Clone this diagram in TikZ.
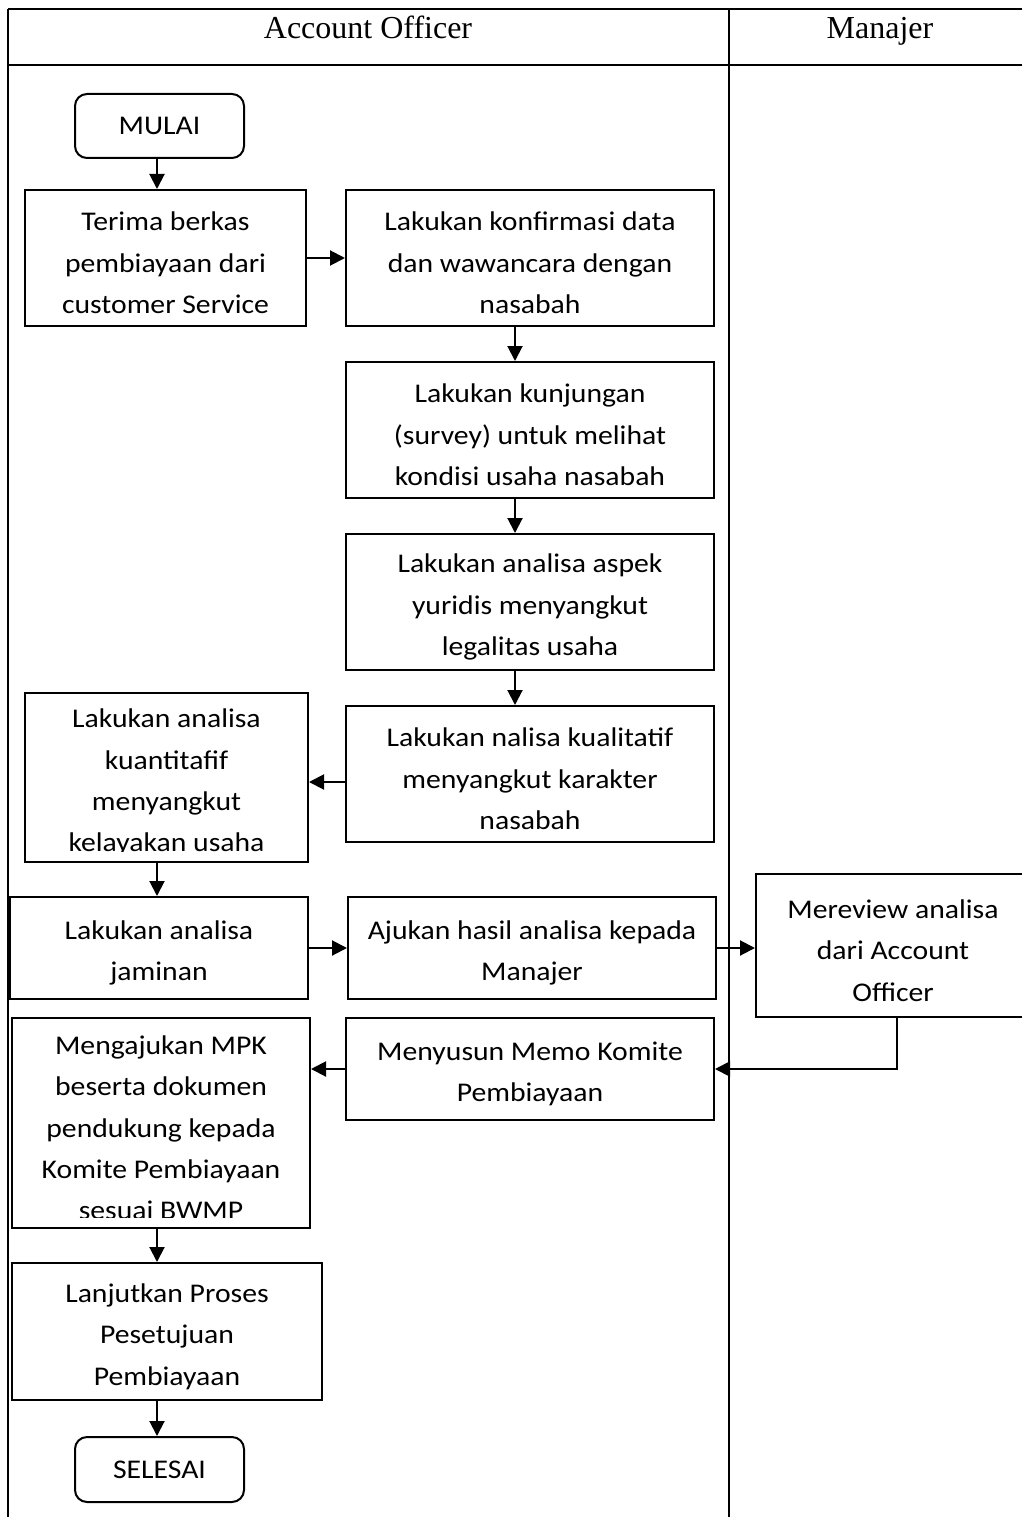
\documentclass[tikz,border=0pt]{standalone}
\usepackage{fontspec}
\setmainfont{Carlito}[FakeStretch=1.1]
\newfontfamily\hdrfont{Liberation Serif}
\usetikzlibrary{arrows.meta,calc}
\tikzset{
  tbl/.style={line width=2pt},
  box/.style={draw, line width=2pt, rectangle, inner sep=0pt},
  term/.style={draw, line width=2pt, rectangle, rounded corners=12pt, inner sep=0pt, font=\fontsize{27}{41}\selectfont},
  arr/.style={line width=2pt, -{Triangle[length=15pt,width=15pt]}},
  txt/.style={align=center, inner sep=0pt, font=\fontsize{27}{41.3}\selectfont},
  hdr/.style={inner sep=0pt, anchor=base, font=\hdrfont\fontsize{32}{36}\selectfont},
}
\newcommand\flowbox[6]{%
  \node[box, minimum width={(#4)-(#2)}, minimum height={(#5)-(#3)},
    path picture={
      \clip ([yshift=10.5pt]path picture bounding box.south west) rectangle (path picture bounding box.north east);
      \node[txt, anchor=north] at ([yshift=-4pt]path picture bounding box.north) {#6};
    }] (#1) at ({((#2)+(#4))/2},{((#3)+(#5))/2}) {};}
\begin{document}
\begin{tikzpicture}[x=1pt,y=-1pt]
\useasboundingbox (0,0) rectangle (1022,1517);
% table
\coordinate (tl) at (8,9);
\coordinate (tr) at (1031,9);
\coordinate (hl) at (8,65);
\coordinate (hr) at (1031,65);
\coordinate (bl) at (8,1530);
\coordinate (dt) at (729,9);
\coordinate (db) at (729,1530);
\draw[tbl] (tl) -- (tr);
\draw[tbl] (hl) -- (hr);
\draw[tbl] (tl) -- (bl);
\draw[tbl] (dt) -- (db);
\node[hdr] (h1) at (368,39) {Account Officer};
\node[hdr] (h2) at (880,39) {Manajer};
% nodes
\node[term, minimum width=169pt, minimum height=64pt] (mulai) at (159.5,126) {MULAI};
\flowbox{t1}{25}{190}{306}{326}{Terima berkas\\pembiayaan dari\\customer Service}
\flowbox{t2}{346}{190}{714}{326}{Lakukan konfirmasi data\\dan wawancara dengan\\nasabah}
\flowbox{t3}{346}{362}{714}{498}{Lakukan kunjungan\\(survey) untuk melihat\\kondisi usaha nasabah}
\flowbox{t4}{346}{534}{714}{670}{Lakukan analisa aspek\\yuridis menyangkut\\legalitas usaha}
\flowbox{t5}{346}{706}{714}{842}{Lakukan nalisa kualitatif\\menyangkut karakter\\nasabah}
\flowbox{t6}{25}{693}{308}{862}{Lakukan analisa\\kuantitafif\\menyangkut\\kelayakan usaha}
\flowbox{t7}{10}{897}{308}{999}{Lakukan analisa\\jaminan}
\flowbox{t8}{348}{897}{716}{999}{Ajukan hasil analisa kepada\\Manajer}
\flowbox{t9}{756}{874}{1030}{1017}{Mereview analisa\\dari Account\\Officer}
\flowbox{t10}{346}{1018}{714}{1120}{Menyusun Memo Komite\\Pembiayaan}
\flowbox{t11}{12}{1018}{310}{1228}{Mengajukan MPK\\beserta dokumen\\pendukung kepada\\Komite Pembiayaan\\sesuai BWMP}
\flowbox{t12}{12}{1263}{322}{1400}{Lanjutkan Proses\\Pesetujuan\\Pembiayaan}
\node[term, minimum width=169pt, minimum height=65pt] (selesai) at (159.5,1469.5) {SELESAI};
% connectors
\draw[arr] ([xshift=-2.5pt]mulai.south) -- ([xshift=-2.5pt]mulai.south |- t1.north);
\draw[arr] (t1.east) -- (t2.west);
\draw[arr] ([xshift=-15pt]t2.south) -- ([xshift=-15pt]t3.north);
\draw[arr] ([xshift=-15pt]t3.south) -- ([xshift=-15pt]t4.north);
\draw[arr] ([xshift=-15pt]t4.south) -- ([xshift=-15pt]t5.north);
\draw[arr] ([yshift=-8pt]t5.west) -- ([yshift=-8pt]t5.west -| t6.east);
\draw[arr] ([xshift=-2.5pt]t6.south -| mulai.south) -- ([xshift=-2.5pt]t7.north -| mulai.south);
\draw[arr] (t7.east) -- (t8.west);
\draw[arr] (t8.east) -- (t8.east -| t9.west);
\draw[arr] ([xshift=4pt]t9.south) |- (t10.east);
\draw[arr] (t10.west) -- (t10.west -| t11.east);
\draw[arr] ([xshift=-2.5pt]t11.south -| mulai.south) -- ([xshift=-2.5pt]t12.north -| mulai.south);
\draw[arr] ([xshift=-2.5pt]t12.south -| selesai.north) -- ([xshift=-2.5pt]selesai.north);
\end{tikzpicture}
\end{document}
